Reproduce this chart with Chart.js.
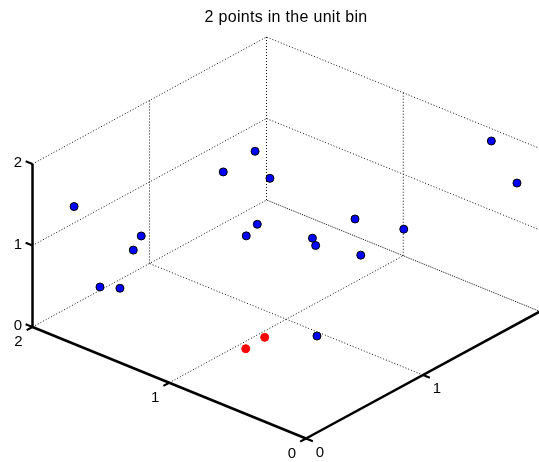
<!DOCTYPE html>
<html>
<head>
<meta charset="utf-8">
<script src="https://cdn.jsdelivr.net/npm/chart.js@4/dist/chart.umd.min.js"></script>
<style>
  html, body { margin: 0; padding: 0; background: #fff; }
  #wrap { width: 539px; height: 462px; position: relative; }
</style>
</head>
<body>
<div id="wrap"><canvas id="c"></canvas></div>
<script>
// Sample coordinates inside the [0,2]^3 cube
const xs = [1.85, 1.50, 1.60, 1.70, 1.50, 1.50, 1.30, 1.50, 1.40, 1.10, 0.80, 1.20, 0.60, 0.90, 0.50, 0.33, 0.10, 0.05, 0.70, 0.70];
const ys = [0.18, 0.345, 0.394, 0.226, 0.163, 1.046, 1.084, 1.445, 1.22, 0.775, 0.99, 1.485, 1.12, 1.52, 1.42, 1.97, 1.92, 0.152, 0.465, 0.303];
const zs = [1.44, 1.19, 0.91, 0.52, 0.69, 1.43, 1.79, 1.04, 0.72, 1.13, 1.14, 0.39, 1.41, 0.45, 1.12, 1.89, 1.57, 1.105, 0.40, 0.387];

// Axis ticks
const xTicks = [0, 1, 2];
const yTicks = [0, 1, 2];
const zTicks = [0, 1, 2];

const TITLE = '2 points in the unit bin';
const LIM = 2;

// Orthographic view: screen position of the origin and of one unit along each axis
const ORIGIN = { x: 306, y: 438.5 };
const EX = { x: -136.75, y: -55.75 };
const EY = { x: 117, y: -63.5 };
const EZ = { x: 0, y: -81.5 };

function proj(x, y, z) {
  return {
    x: ORIGIN.x + x * EX.x + y * EY.x + z * EZ.x,
    y: ORIGIN.y + x * EX.y + y * EY.y + z * EZ.y
  };
}

const datasets = [];

// markers: points inside the unit bin in red, the rest in blue
const inBin = xs.map((x, i) => x <= 1 && ys[i] <= 1 && zs[i] <= 1);
const bluePts = [], redPts = [];
xs.forEach((x, i) => (inBin[i] ? redPts : bluePts).push(proj(x, ys[i], zs[i])));

datasets.push({
  data: bluePts, order: 0,
  pointRadius: 4, pointBackgroundColor: '#0000ff', pointBorderColor: '#000000', pointBorderWidth: 1,
  showLine: false
});
datasets.push({
  data: redPts, order: 0,
  pointRadius: 4, pointBackgroundColor: '#ff0000', pointBorderColor: '#ff0000', pointBorderWidth: 1,
  showLine: false
});

function segment(p, q, opts) {
  datasets.push(Object.assign({
    data: [proj(...p), proj(...q)],
    showLine: true, pointRadius: 0, fill: false, tension: 0,
    borderColor: '#000', borderWidth: 1, borderCapStyle: 'butt'
  }, opts));
}

const dotted = { borderColor: '#111', borderWidth: 1, borderDash: [1, 2], order: 3 };
const dense = { borderColor: '#111', borderWidth: 1, borderDash: [1, 1], order: 3 };
const solid = { borderColor: '#000', borderWidth: 2.5, order: 2 };
const tickStyle = { borderColor: '#000', borderWidth: 2, order: 2 };

// floor grid (z = 0)
xTicks.slice(1).forEach(t => segment([t, 0, 0], [t, LIM, 0], dotted));
yTicks.slice(1).forEach(t => segment([0, t, 0], [LIM, t, 0], t === LIM ? dense : dotted));
// back wall x = LIM
yTicks.slice(1).forEach(t => segment([LIM, t, 0], [LIM, t, LIM], dotted));
zTicks.slice(1).forEach(t => segment([LIM, 0, t], [LIM, LIM, t], dotted));
// back wall y = LIM
xTicks.forEach(t => segment([t, LIM, 0], [t, LIM, LIM], dotted));
zTicks.slice(1).forEach(t => segment([0, LIM, t], [LIM, LIM, t], dotted));

// axis lines
segment([0, 0, 0], [LIM, 0, 0], solid);
segment([0, 0, 0], [0, LIM, 0], solid);
segment([LIM, 0, 0], [LIM, 0, LIM], solid);

// tick marks
const TL = 0.05;
xTicks.forEach(t => segment([t, 0, 0], [t, -TL, 0], tickStyle));
yTicks.forEach(t => segment([0, t, 0], [-TL, t, 0], tickStyle));
zTicks.forEach(t => segment([LIM, 0, t], [LIM + TL, 0, t], tickStyle));

// tick labels and title
const textPlugin = {
  id: 'axisText',
  afterDraw(chart) {
    const ctx = chart.ctx, sx = chart.scales.x, sy = chart.scales.y;
    const toPx = p => ({ x: sx.getPixelForValue(p.x), y: sy.getPixelForValue(p.y) });
    ctx.save();
    ctx.fillStyle = '#000';
    ctx.textAlign = 'center';
    ctx.textBaseline = 'middle';
    ctx.font = '15px "Liberation Sans", Arial, sans-serif';
    xTicks.forEach(t => { const p = toPx(proj(t, 0, 0)); ctx.fillText(String(t), p.x - 14, p.y + 15); });
    yTicks.forEach(t => { const p = toPx(proj(0, t, 0)); ctx.fillText(String(t), p.x + 14, p.y + 14); });
    zTicks.forEach(t => { const p = toPx(proj(LIM, 0, t)); ctx.fillText(String(t), p.x - 14.5, p.y - 1); });
    ctx.font = '16px "Liberation Sans", Arial, sans-serif';
    if ('letterSpacing' in ctx) ctx.letterSpacing = '0.3px';
    ctx.fillText(TITLE, 286, 18);
    ctx.restore();
  }
};

new Chart(document.getElementById('c'), {
  type: 'scatter',
  data: { datasets },
  options: {
    responsive: true,
    maintainAspectRatio: false,
    animation: false,
    events: [],
    layout: { padding: 0, autoPadding: false },
    plugins: { legend: { display: false }, tooltip: { enabled: false }, title: { display: false } },
    scales: {
      x: { type: 'linear', min: 0, max: 539, display: false },
      y: { type: 'linear', min: 0, max: 462, reverse: true, display: false }
    }
  },
  plugins: [textPlugin]
});
</script>
</body>
</html>
